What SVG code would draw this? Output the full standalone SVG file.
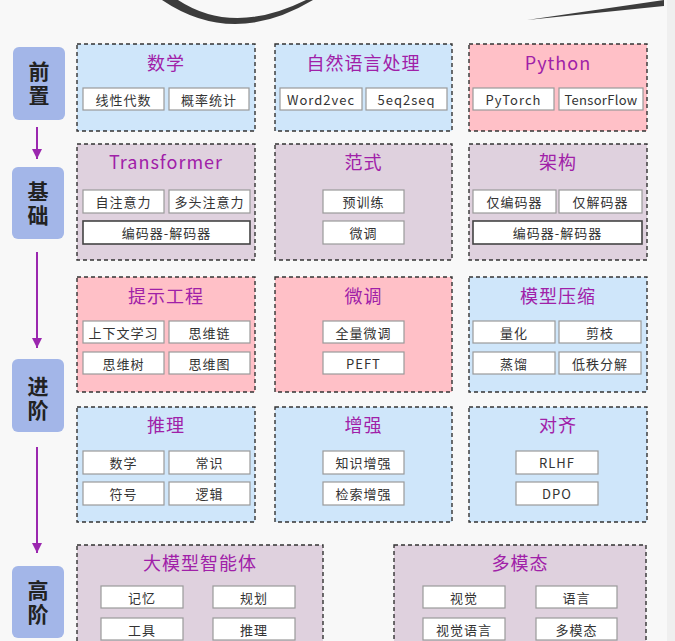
<svg xmlns="http://www.w3.org/2000/svg" width="675" height="641" viewBox="0 0 675 641">
<defs>
<style>
.bg{fill:#f8f8f8}
.pb{fill:#cfe6fa;stroke:#333;stroke-width:1.4;stroke-dasharray:4 3}
.pp{fill:#ffc0c7;stroke:#333;stroke-width:1.4;stroke-dasharray:4 3}
.pm{fill:#dfd1de;stroke:#333;stroke-width:1.4;stroke-dasharray:4 3}
.sb{fill:#fff;stroke:#9a9a9a;stroke-width:1.2}
.sw{fill:#fff;stroke:#444;stroke-width:1.6}
.st{fill:#a3b6e8}
.t{font-family:"Noto Sans CJK SC","Noto Sans",sans-serif;font-size:18px;fill:#a020a8;text-anchor:middle;dominant-baseline:central;letter-spacing:1px}
.s{font-family:"Noto Sans CJK SC","Noto Sans",sans-serif;font-size:13px;fill:#333;text-anchor:middle;dominant-baseline:central;letter-spacing:1px}
.g{font-family:"Noto Sans CJK SC",sans-serif;font-size:21px;font-weight:bold;fill:#222;text-anchor:middle;writing-mode:vertical-rl;letter-spacing:3px}
.ar{stroke:#9b27af;stroke-width:2;fill:none}
</style>
<marker id="ah" viewBox="0 0 10 10" refX="10" refY="5" markerWidth="5" markerHeight="5" orient="auto" markerUnits="strokeWidth">
<path d="M0,0 L10,5 L0,10 Z" fill="#9b27af"/>
</marker>
</defs>
<rect class="bg" x="0" y="0" width="675" height="641"/>
<rect x="667" y="0" width="8" height="641" fill="#efefef"/>
<path d="M162,0 Q233,48 313,0 L306,0 Q233,36 178,0 Z" fill="#3c3c3c"/>
<path d="M527,20 L664,0 L664,6 Z" fill="#3c3c3c"/>

<g id="connectors">
<line class="ar" x1="37" y1="127" x2="37" y2="159" marker-end="url(#ah)"/>
<line class="ar" x1="37" y1="252" x2="37" y2="348" marker-end="url(#ah)"/>
<line class="ar" x1="37" y1="447" x2="37" y2="553" marker-end="url(#ah)"/>
</g>

<g id="stage-qianzhi"><rect class="st" x="13" y="47" width="52" height="73" rx="6"/><text class="g" x="39" y="84.5">前置</text></g>
<g id="stage-jichu"><rect class="st" x="12" y="167" width="52" height="72" rx="6"/><text class="g" x="38" y="204.5">基础</text></g>
<g id="stage-jinjie"><rect class="st" x="12" y="359" width="52" height="73" rx="6"/><text class="g" x="38" y="399.5">进阶</text></g>
<g id="stage-gaojie"><rect class="st" x="12" y="566" width="52" height="72" rx="6"/><text class="g" x="38" y="604">高阶</text></g>

<g id="math"><rect class="pb" x="77" y="44" width="178" height="87"/><text class="t" x="166" y="62">数学</text>
<rect class="sb" x="83" y="88" width="81" height="22"/><text class="s" x="123.5" y="99">线性代数</text>
<rect class="sb" x="169" y="88" width="80" height="22"/><text class="s" x="209" y="99">概率统计</text></g>
<g id="nlp"><rect class="pb" x="275" y="44" width="177" height="87"/><text class="t" x="363.5" y="62">自然语言处理</text>
<rect class="sb" x="280" y="88" width="82" height="22"/><text class="s" x="321" y="99">Word2vec</text>
<rect class="sb" x="366" y="88" width="81" height="22"/><text class="s" x="406.5" y="99">5eq2seq</text></g>
<g id="python"><rect class="pp" x="469" y="44" width="178" height="87"/><text class="t" x="558" y="62">Python</text>
<rect class="sb" x="473" y="88" width="81" height="22"/><text class="s" x="513.5" y="99">PyTorch</text>
<rect class="sb" x="559" y="88" width="84" height="22"/><text class="s" x="601" y="99" style="letter-spacing:0.3px">TensorFlow</text></g>

<g id="transformer"><rect class="pm" x="77" y="144" width="178" height="116"/><text class="t" x="166" y="161">Transformer</text>
<rect class="sb" x="83" y="190" width="81" height="23"/><text class="s" x="123.5" y="201.5">自注意力</text>
<rect class="sb" x="169" y="190" width="81" height="23"/><text class="s" x="209.5" y="201.5">多头注意力</text>
<rect class="sw" x="83" y="221" width="167" height="23"/><text class="s" x="166.5" y="232.5">编码器-解码器</text></g>
<g id="paradigm"><rect class="pm" x="275" y="144" width="177" height="116"/><text class="t" x="363.5" y="161">范式</text>
<rect class="sb" x="323" y="190" width="81" height="23"/><text class="s" x="363.5" y="201.5">预训练</text>
<rect class="sb" x="323" y="221" width="81" height="23"/><text class="s" x="363.5" y="232.5">微调</text></g>
<g id="arch"><rect class="pm" x="469" y="144" width="178" height="116"/><text class="t" x="558" y="161">架构</text>
<rect class="sb" x="473" y="190" width="83" height="23"/><text class="s" x="514.5" y="201.5">仅编码器</text>
<rect class="sb" x="559" y="190" width="83" height="23"/><text class="s" x="600.5" y="201.5">仅解码器</text>
<rect class="sw" x="473" y="221" width="169" height="23"/><text class="s" x="557.5" y="232.5">编码器-解码器</text></g>

<g id="prompt"><rect class="pp" x="77" y="277" width="178" height="115"/><text class="t" x="166" y="294.5">提示工程</text>
<rect class="sb" x="83" y="321" width="81" height="22"/><text class="s" x="123.5" y="332">上下文学习</text>
<rect class="sb" x="169" y="321" width="81" height="22"/><text class="s" x="209.5" y="332">思维链</text>
<rect class="sb" x="83" y="352" width="81" height="22"/><text class="s" x="123.5" y="363">思维树</text>
<rect class="sb" x="169" y="352" width="81" height="22"/><text class="s" x="209.5" y="363">思维图</text></g>
<g id="finetune"><rect class="pp" x="275" y="277" width="177" height="115"/><text class="t" x="363.5" y="294.5">微调</text>
<rect class="sb" x="323" y="321" width="81" height="22"/><text class="s" x="363.5" y="332">全量微调</text>
<rect class="sb" x="323" y="352" width="81" height="22"/><text class="s" x="363.5" y="363">PEFT</text></g>
<g id="compress"><rect class="pb" x="469" y="277" width="178" height="115"/><text class="t" x="558" y="294.5">模型压缩</text>
<rect class="sb" x="473" y="321" width="82" height="22"/><text class="s" x="514" y="332">量化</text>
<rect class="sb" x="559" y="321" width="82" height="22"/><text class="s" x="600" y="332">剪枝</text>
<rect class="sb" x="473" y="352" width="82" height="22"/><text class="s" x="514" y="363">蒸馏</text>
<rect class="sb" x="559" y="352" width="82" height="22"/><text class="s" x="600" y="363">低秩分解</text></g>

<g id="reasoning"><rect class="pb" x="77" y="407" width="178" height="115"/><text class="t" x="166" y="424">推理</text>
<rect class="sb" x="83" y="451" width="81" height="23"/><text class="s" x="123.5" y="462.5">数学</text>
<rect class="sb" x="169" y="451" width="81" height="23"/><text class="s" x="209.5" y="462.5">常识</text>
<rect class="sb" x="83" y="482" width="81" height="23"/><text class="s" x="123.5" y="493.5">符号</text>
<rect class="sb" x="169" y="482" width="81" height="23"/><text class="s" x="209.5" y="493.5">逻辑</text></g>
<g id="augment"><rect class="pb" x="275" y="407" width="177" height="115"/><text class="t" x="363.5" y="424">增强</text>
<rect class="sb" x="323" y="451" width="81" height="23"/><text class="s" x="363.5" y="462.5">知识增强</text>
<rect class="sb" x="323" y="482" width="81" height="23"/><text class="s" x="363.5" y="493.5">检索增强</text></g>
<g id="align"><rect class="pb" x="469" y="407" width="178" height="115"/><text class="t" x="558" y="424">对齐</text>
<rect class="sb" x="516" y="451" width="82" height="23"/><text class="s" x="557" y="462.5">RLHF</text>
<rect class="sb" x="516" y="482" width="82" height="23"/><text class="s" x="557" y="493.5">DPO</text></g>

<g id="agent"><rect class="pm" x="77" y="545" width="246" height="110"/><text class="t" x="200" y="562">大模型智能体</text>
<rect class="sb" x="101" y="586" width="82" height="22"/><text class="s" x="142" y="597">记忆</text>
<rect class="sb" x="213" y="586" width="82" height="22"/><text class="s" x="254" y="597">规划</text>
<rect class="sb" x="101" y="618" width="82" height="22"/><text class="s" x="142" y="629">工具</text>
<rect class="sb" x="213" y="618" width="82" height="22"/><text class="s" x="254" y="629">推理</text></g>
<g id="multimodal"><rect class="pm" x="394" y="545" width="252" height="110"/><text class="t" x="520" y="562">多模态</text>
<rect class="sb" x="423" y="586" width="82" height="22"/><text class="s" x="464" y="597">视觉</text>
<rect class="sb" x="536" y="586" width="81" height="22"/><text class="s" x="576.5" y="597">语言</text>
<rect class="sb" x="423" y="618" width="82" height="22"/><text class="s" x="464" y="629">视觉语言</text>
<rect class="sb" x="536" y="618" width="81" height="22"/><text class="s" x="576.5" y="629">多模态</text></g>
</svg>
